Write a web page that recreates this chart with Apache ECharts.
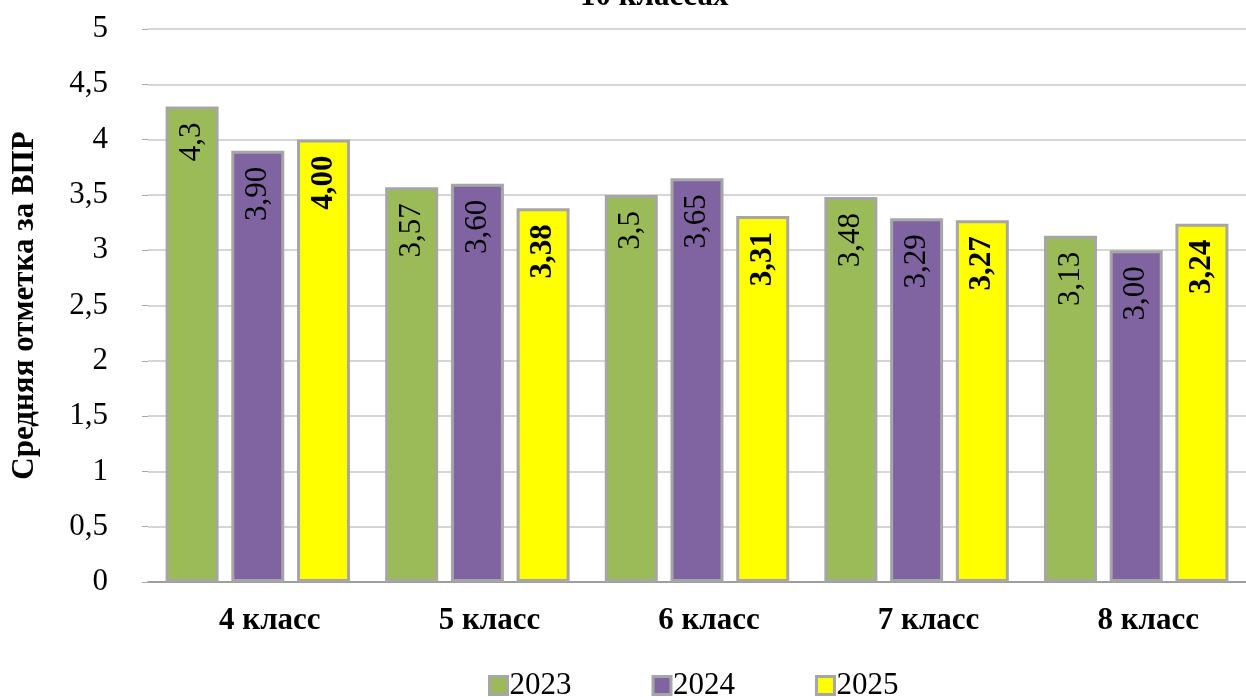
<!DOCTYPE html>
<html>
<head>
<meta charset="utf-8">
<script src="https://cdn.jsdelivr.net/npm/echarts@6/dist/echarts.min.js"></script>
<style>
  html, body { margin: 0; padding: 0; background: #fff; }
  #main { width: 1246px; height: 697px; }
</style>
</head>
<body>
<div id="main"></div>
<script>
const categories = ['4 класс', '5 класс', '6 класс', '7 класс', '8 класс'];
const years = ['2023', '2024', '2025'];
const values2023 = [4.3, 3.57, 3.5, 3.48, 3.13];
const values2024 = [3.90, 3.60, 3.65, 3.29, 3.00];
const values2025 = [4.00, 3.38, 3.31, 3.27, 3.24];

const font = 'Liberation Serif, Times New Roman, serif';
const colors = ['#9bbb59', '#8064a2', '#ffff00'];

const comma = v => String(v).replace('.', ',');

function makeSeries(name, data, color, fmt, bold) {
  return {
    name: name,
    type: 'bar',
    data: data,
    barWidth: 53,
    barGap: '24%',
    itemStyle: { color: color, borderColor: '#a6a6a6', borderWidth: 3 },
    label: {
      show: true,
      position: 'insideTop',
      rotate: 90,
      align: 'right',
      verticalAlign: 'middle',
      distance: 16,
      color: '#000',
      fontFamily: font,
      fontSize: 31,
      fontWeight: bold ? 'bold' : 'normal',
      formatter: p => fmt(p.value)
    }
  };
}

const chart = echarts.init(document.getElementById('main'));
chart.setOption({
  animation: false,
  title: {
    text: '10 классах',
    left: 575,
    top: -24,
    textStyle: { fontFamily: font, fontSize: 31, fontWeight: 'bold', color: '#000' }
  },
  legend: {
    bottom: -9,
    left: 483,
    icon: 'rect',
    itemWidth: 18,
    itemHeight: 18,
    itemGap: 80,
    itemStyle: { borderColor: '#a6a6a6', borderWidth: 3 },
    textStyle: { fontFamily: font, fontSize: 31, color: '#000', padding: [0, 0, 0, -3] },
    data: years
  },
  grid: { left: 148, right: 0, top: 29, bottom: 115 },
  xAxis: {
    type: 'category',
    data: categories,
    axisTick: { show: false },
    axisLine: { lineStyle: { color: '#8c8c8c', width: 1.5 } },
    axisLabel: {
      margin: 23,
      padding: [0, 0, 0, 24],
      color: '#000',
      fontFamily: font,
      fontSize: 31,
      fontWeight: 'bold'
    }
  },
  yAxis: {
    type: 'value',
    min: 0,
    max: 5,
    interval: 0.5,
    name: 'Средняя отметка за ВПР',
    nameLocation: 'middle',
    nameGap: 108,
    nameTextStyle: { fontFamily: font, fontSize: 31, fontWeight: 'bold', color: '#000' },
    axisLine: { show: false },
    axisTick: { show: true, length: 6, lineStyle: { color: '#a6a6a6' } },
    splitLine: { lineStyle: { color: '#c8c8c8', width: 1.5 } },
    axisLabel: {
      margin: 40,
      color: '#000',
      fontFamily: font,
      fontSize: 31,
      formatter: v => comma(v)
    }
  },
  series: [
    makeSeries(years[0], values2023, colors[0], comma, false),
    makeSeries(years[1], values2024, colors[1], v => v.toFixed(2).replace('.', ','), false),
    makeSeries(years[2], values2025, colors[2], v => v.toFixed(2).replace('.', ','), true)
  ]
});
window.addEventListener('resize', () => chart.resize());
</script>
</body>
</html>
